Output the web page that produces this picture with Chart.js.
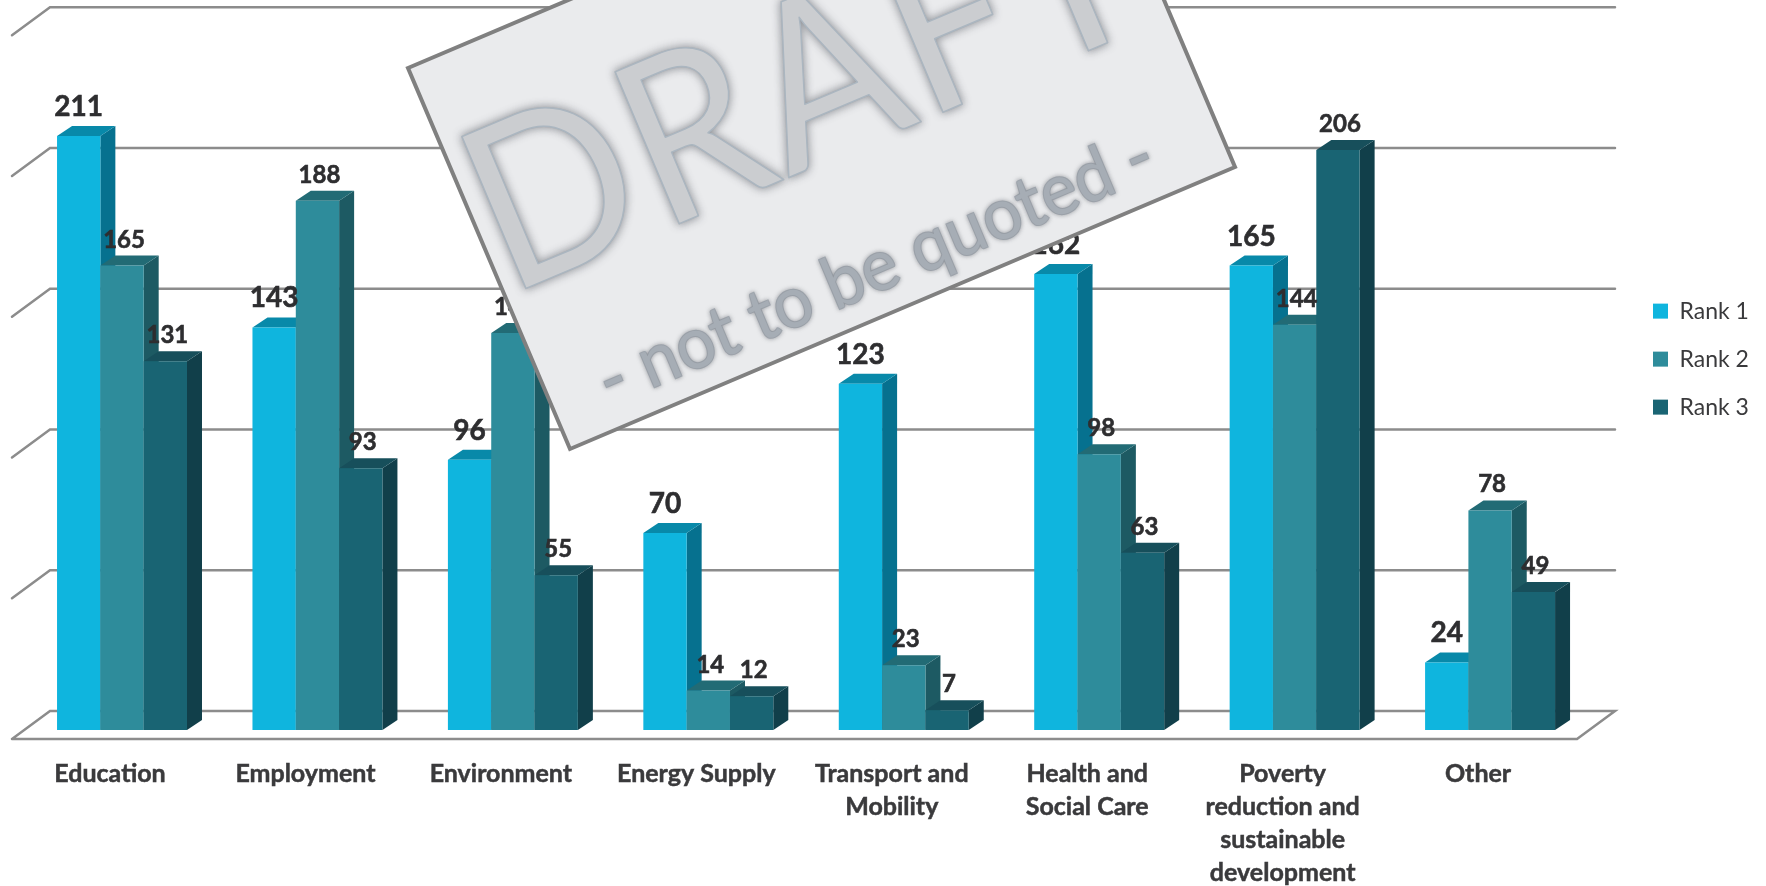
<!DOCTYPE html>
<html lang="en">
<head>
    <meta charset="UTF-8">
    <title>Ranks by sector</title>
    <script src="https://cdn.jsdelivr.net/npm/chart.js@4.4.0/dist/chart.umd.min.js"></script>
    <style>
        html, body { margin: 0; padding: 0; background: #ffffff; overflow: hidden; }
        #wrap { width: 1766px; height: 886px; position: relative; }
    </style>
</head>
<body>
    <div id="wrap"><canvas id="rankChart" width="1766" height="886"></canvas></div>
    <script>
        const categories = [
            'Education', 'Employment', 'Environment', 'Energy Supply',
            ['Transport and', 'Mobility'], ['Health and', 'Social Care'],
            ['Poverty', 'reduction and', 'sustainable', 'development'], 'Other'
        ];
        const rank1 = [211, 143, 96, 70, 123, 162, 165, 24];
        const rank2 = [165, 188, 141, 14, 23, 98, 144, 78];
        const rank3 = [131, 93, 55, 12, 7, 63, 206, 49];
        const seriesNames = ['Rank 1', 'Rank 2', 'Rank 3'];
        const axisMax = 250;
        const axisStep = 50;

        const frontColors = ['#0FB5DE', '#2E8C9B', '#196473'];
        const sideColors = ['#06718F', '#1D5A63', '#113F4A'];
        const topColors = ['#0889A9', '#226B75', '#174F5B'];
        const labelFonts = ['bold 28px Lato', 'bold 24px Lato', 'bold 24px Lato'];

        // depth of the fake 3D box
        const depthX = 15;
        const depthY = 10;

        function fillPoly(ctx, pts, color) {
            ctx.fillStyle = color;
            ctx.beginPath();
            pts.forEach((p, i) => i ? ctx.lineTo(p[0], p[1]) : ctx.moveTo(p[0], p[1]));
            ctx.closePath();
            ctx.fill();
        }

        // back wall lines, left slants and the floor
        const wallPlugin = {
            id: 'wall',
            beforeDatasetsDraw(chart) {
                const ctx = chart.ctx;
                const y = chart.scales.y;
                const backL = 50, backR = 1615, frontL = 12, frontR = 1577;
                const up = 19, down = 9;
                ctx.save();
                ctx.strokeStyle = '#8C8C8C';
                ctx.lineWidth = 2.5;
                ctx.lineCap = 'round';
                y.ticks.forEach(t => {
                    const py = y.getPixelForValue(t.value);
                    ctx.beginPath();
                    ctx.moveTo(frontL, py + down);
                    ctx.lineTo(backL, py - up);
                    ctx.lineTo(backR, py - up);
                    if (t.value === 0) {
                        ctx.lineTo(frontR, py + down);
                        ctx.lineTo(frontL, py + down);
                    }
                    ctx.stroke();
                });
                ctx.restore();
            }
        };

        // Chart.js paints the first series last, here it has to go first
        // so every bar covers the side face of the bar on its left
        const boxPlugin = {
            id: 'box',
            beforeDatasetsDraw(chart) {
                const ctx = chart.ctx;
                chart.data.datasets.forEach((ds, i) => {
                    const meta = chart.getDatasetMeta(i);
                    meta.data.forEach(bar => {
                        const l = bar.x - bar.width / 2;
                        const r = bar.x + bar.width / 2;
                        fillPoly(ctx, [[r, bar.y], [r + depthX, bar.y - depthY], [r + depthX, bar.base - depthY], [r, bar.base]], sideColors[i]);
                        fillPoly(ctx, [[l, bar.y], [l + depthX, bar.y - depthY], [r + depthX, bar.y - depthY], [r, bar.y]], topColors[i]);
                    });
                    meta.controller.draw();
                });
            },
            beforeDatasetDraw() {
                return false;
            },
            afterDatasetsDraw(chart) {
                const ctx = chart.ctx;
                ctx.save();
                ctx.textAlign = 'center';
                ctx.textBaseline = 'alphabetic';
                ctx.fillStyle = '#2E2E30';
                ctx.strokeStyle = '#2E2E30';
                ctx.lineWidth = 0.6;
                chart.data.datasets.forEach((ds, i) => {
                    ctx.font = labelFonts[i];
                    chart.getDatasetMeta(i).data.forEach((bar, k) => {
                        const lx = bar.x + (i ? 2 : 0);
                        const ly = bar.y - (i ? 18 : 20);
                        ctx.fillText(ds.data[k], lx, ly);
                        ctx.strokeText(ds.data[k], lx, ly);
                    });
                });
                ctx.restore();
            }
        };

        // the grey "DRAFT" sticker laid over the chart
        const stampPlugin = {
            id: 'stamp',
            afterLayout(chart) {
                chart.legend.left = 1628;
                chart.legend.right = 1766;
                chart.legend.top -= 97;
                chart.legend.bottom -= 97;
            },
            afterDraw(chart) {
                const ctx = chart.ctx;
                ctx.save();
                ctx.beginPath();
                ctx.moveTo(408, 68);
                ctx.lineTo(1073, -214);
                ctx.lineTo(1235, 167);
                ctx.lineTo(570, 449);
                ctx.closePath();
                ctx.fillStyle = '#EAEBED';
                ctx.fill();
                ctx.strokeStyle = '#808080';
                ctx.lineWidth = 4;
                ctx.stroke();

                const angle = -22.9 * Math.PI / 180;
                ctx.save();
                ctx.translate(508, 296);
                ctx.rotate(angle);
                ctx.scale(0.93, 1);
                ctx.font = '230px Lato';
                ctx.letterSpacing = '4px';
                ctx.lineJoin = 'round';
                ctx.shadowColor = 'rgba(120,124,130,0.8)';
                ctx.shadowBlur = 8;
                ctx.fillStyle = '#CBCDD0';
                ctx.strokeStyle = '#CBCDD0';
                ctx.lineWidth = 2;
                ctx.strokeText('DRAFT', 0, 0);
                ctx.fillText('DRAFT', 0, 0);
                ctx.shadowBlur = 0;
                ctx.strokeStyle = '#ABB6C0';
                ctx.lineWidth = 1.5;
                ctx.strokeText('DRAFT', 0, 0);
                ctx.restore();

                ctx.save();
                ctx.translate(610, 406);
                ctx.rotate(angle);
                ctx.scale(0.96, 1);
                ctx.font = '72px Lato';
                ctx.shadowColor = 'rgba(120,124,130,0.6)';
                ctx.shadowBlur = 4;
                ctx.fillStyle = '#A6ADB5';
                ctx.strokeStyle = '#A6ADB5';
                ctx.lineWidth = 2;
                ctx.strokeText('- not to be quoted -', 0, 0);
                ctx.fillText('- not to be quoted -', 0, 0);
                ctx.restore();
                ctx.restore();
            }
        };

        new Chart(document.getElementById('rankChart').getContext('2d'), {
            type: 'bar',
            data: {
                labels: categories,
                datasets: [rank1, rank2, rank3].map((vals, i) => ({
                    label: seriesNames[i],
                    data: vals,
                    backgroundColor: frontColors[i],
                    borderWidth: 0,
                    categoryPercentage: 0.665,
                    barPercentage: 1
                }))
            },
            options: {
                responsive: false,
                animation: false,
                layout: { padding: { left: 24.3, top: 26.25, right: 47.3, bottom: 0 } },
                plugins: {
                    tooltip: { enabled: false },
                    legend: {
                        position: 'right',
                        labels: {
                            boxWidth: 15,
                            boxHeight: 15,
                            padding: 25,
                            color: '#3A3A3C',
                            font: { family: 'Lato', size: 23 }
                        }
                    }
                },
                scales: {
                    x: {
                        grid: { display: false },
                        border: { display: false },
                        afterFit(scale) { scale.height = 156; },
                        ticks: {
                            autoSkip: false,
                            maxRotation: 0,
                            padding: 19,
                            labelOffset: -12,
                            color: '#3A3A3C',
                            textStrokeColor: '#3A3A3C',
                            textStrokeWidth: 0.5,
                            font: { family: 'Lato', size: 25, weight: 'bold', lineHeight: 1.32 }
                        }
                    },
                    y: {
                        display: false,
                        min: 0,
                        max: axisMax,
                        ticks: { stepSize: axisStep }
                    }
                }
            },
            plugins: [wallPlugin, boxPlugin, stampPlugin]
        });
    </script>
</body>
</html>
